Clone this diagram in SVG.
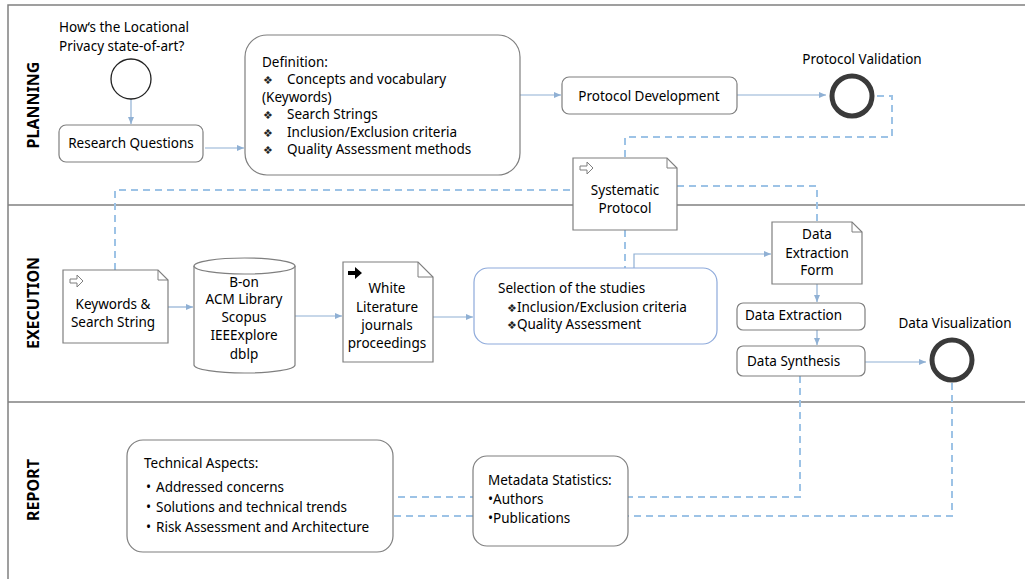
<svg xmlns="http://www.w3.org/2000/svg" width="1025" height="579" viewBox="0 0 1025 579">
<style>
text{font-family:"Noto Sans","DejaVu Sans",sans-serif;font-size:13.5px;fill:#000}
.lane{font-weight:bold;font-size:16px}
.c{text-anchor:middle}
.b{font-size:11px;fill:#222}
.box{fill:#fff;stroke:#7f7f7f;stroke-width:1.2}
.sel{fill:#fff;stroke:#8eaadb;stroke-width:1.2}
.frame{fill:none;stroke:#808080;stroke-width:1.5}
.flow{fill:none;stroke:#8fb0d4;stroke-width:1.2}
.dash{fill:none;stroke:#9dc3e6;stroke-width:2;stroke-dasharray:7,5}
.end{fill:#fff;stroke:#3a3a3a;stroke-width:5}
.icon{fill:#fff;stroke:#7f7f7f;stroke-width:1}
</style>
<defs>
<marker id="ah" markerWidth="8" markerHeight="8" refX="7" refY="4" orient="auto" markerUnits="userSpaceOnUse">
<path d="M0,1 L7,4 L0,7 z" fill="#8fb0d4"/>
</marker>
</defs>
<rect width="1025" height="579" fill="#fff"/>
<g id="lanes">
<path class="frame" d="M8,579 V5 H1025"/>
<line class="frame" x1="8" y1="205" x2="1025" y2="205"/>
<line class="frame" x1="8" y1="402" x2="1025" y2="402"/>
<text class="lane c" transform="translate(39,105) rotate(-90)">PLANNING</text>
<text class="lane c" transform="translate(39,303) rotate(-90)">EXECUTION</text>
<text class="lane c" transform="translate(39,490) rotate(-90)">REPORT</text>
</g>
<g id="connectors">
<path class="dash" d="M877,96 H892 V137 H625 V158"/>
<path class="dash" d="M115,270 V190 H573"/>
<path class="dash" d="M677,186 H817 V222"/>
<path class="dash" d="M625,230 V268"/>
<path class="dash" d="M800,376 V497 H393"/>
<path class="dash" d="M952,383 V516 H393"/>
<path class="flow" marker-end="url(#ah)" d="M131,99 V124"/>
<path class="flow" marker-end="url(#ah)" d="M205,148 H244"/>
<path class="flow" marker-end="url(#ah)" d="M520,95 H561"/>
<path class="flow" marker-end="url(#ah)" d="M737,95 H826"/>
<path class="flow" marker-end="url(#ah)" d="M168,307 H193"/>
<path class="flow" marker-end="url(#ah)" d="M295,316 H342"/>
<path class="flow" marker-end="url(#ah)" d="M433,317 H473"/>
<path class="flow" marker-end="url(#ah)" d="M634,268 V254 H771"/>
<path class="flow" marker-end="url(#ah)" d="M817,284 V302"/>
<path class="flow" marker-end="url(#ah)" d="M817,330 V345"/>
<path class="flow" marker-end="url(#ah)" d="M865,362 H926"/>
</g>
<g id="start">
<text x="59" y="32">How‘s the Locational</text>
<text x="59" y="51">Privacy state-of-art?</text>
<circle cx="131" cy="79" r="20" fill="#fff" stroke="#222" stroke-width="1.3"/>
</g>
<g id="research-questions">
<rect class="box" x="59" y="125" width="144" height="37" rx="7"/>
<text class="c" x="131" y="148">Research Questions</text>
</g>
<g id="definition">
<rect class="box" x="245" y="35" width="275" height="140" rx="22"/>
<text x="262" y="67">Definition:</text>
<text class="b" x="263" y="84">❖</text><text x="287" y="84">Concepts and vocabulary</text>
<text x="262" y="102">(Keywords)</text>
<text class="b" x="263" y="119">❖</text><text x="287" y="119">Search Strings</text>
<text class="b" x="263" y="137">❖</text><text x="287" y="137">Inclusion/Exclusion criteria</text>
<text class="b" x="263" y="154">❖</text><text x="287" y="154">Quality Assessment methods</text>
</g>
<g id="protocol-development">
<rect class="box" x="562" y="77" width="175" height="37" rx="7"/>
<text class="c" x="649" y="101">Protocol Development</text>
</g>
<g id="protocol-validation">
<circle class="end" cx="852" cy="96" r="20"/>
<text class="c" x="862" y="64">Protocol Validation</text>
</g>
<g id="systematic-protocol">
<path class="box" d="M573,158 H667 L677,168 V230 H573 Z"/>
<path fill="none" stroke="#7f7f7f" stroke-width="1" d="M667,158 V168 H677"/>
<path class="icon" d="M580,166 H587 V162 L593,168 L587,174 V170 H580 Z"/>
<text class="c" x="625" y="195">Systematic</text>
<text class="c" x="625" y="213">Protocol</text>
</g>
<g id="keywords">
<path class="box" d="M63,270 H158 L168,280 V343 H63 Z"/>
<path fill="none" stroke="#7f7f7f" stroke-width="1" d="M158,270 V280 H168"/>
<path class="icon" d="M70,279 H77 V275 L83,281 L77,287 V283 H70 Z"/>
<text class="c" x="113" y="309">Keywords &amp;</text>
<text class="c" x="113" y="327">Search String</text>
</g>
<g id="databases">
<path class="box" d="M194,266 V365 A50.5,8 0 0 0 295,365 V266"/>
<ellipse class="box" cx="244.5" cy="266" rx="50.5" ry="8"/>
<text class="c" x="244" y="287">B-on</text>
<text class="c" x="244" y="304">ACM Library</text>
<text class="c" x="244" y="322">Scopus</text>
<text class="c" x="244" y="340">IEEExplore</text>
<text class="c" x="244" y="359">dblp</text>
</g>
<g id="white-literature">
<path class="box" d="M343,262 H418 L433,277 V362 H343 Z"/>
<path fill="none" stroke="#7f7f7f" stroke-width="1" d="M418,262 V277 H433"/>
<path fill="#000" d="M348,271 H355 V267 L362,273 L355,279 V275 H348 Z"/>
<text class="c" x="387" y="293">White</text>
<text class="c" x="387" y="312">Literature</text>
<text class="c" x="387" y="330">journals</text>
<text class="c" x="387" y="348">proceedings</text>
</g>
<g id="selection">
<rect class="sel" x="474" y="268" width="243" height="76" rx="14"/>
<text x="498" y="293">Selection of the studies</text>
<text x="507" y="312"><tspan class="b">❖</tspan>Inclusion/Exclusion criteria</text>
<text x="507" y="329"><tspan class="b">❖</tspan>Quality Assessment</text>
</g>
<g id="data-extraction-form">
<path class="box" d="M772,222 H852 L862,232 V284 H772 Z"/>
<path fill="none" stroke="#7f7f7f" stroke-width="1" d="M852,222 V232 H862"/>
<text class="c" x="817" y="239">Data</text>
<text class="c" x="817" y="258">Extraction</text>
<text class="c" x="817" y="275">Form</text>
</g>
<g id="data-extraction">
<rect class="box" x="737" y="303" width="128" height="27" rx="6"/>
<text x="745" y="320">Data Extraction</text>
</g>
<g id="data-synthesis">
<rect class="box" x="737" y="346" width="128" height="30" rx="6"/>
<text x="747" y="366">Data Synthesis</text>
</g>
<g id="data-visualization">
<circle class="end" cx="952" cy="360" r="20"/>
<text class="c" x="955" y="328">Data Visualization</text>
</g>
<g id="technical-aspects">
<rect class="box" x="127" y="440" width="266" height="112" rx="16"/>
<text x="144" y="468">Technical Aspects:</text>
<text x="146" y="492">•</text><text x="156" y="492">Addressed concerns</text>
<text x="146" y="512">•</text><text x="156" y="512">Solutions and technical trends</text>
<text x="146" y="532">•</text><text x="156" y="532">Risk Assessment and Architecture</text>
</g>
<g id="metadata-statistics">
<rect class="box" x="473" y="456" width="155" height="90" rx="14"/>
<text x="488" y="485">Metadata Statistics:</text>
<text x="488" y="504">•Authors</text>
<text x="488" y="523">•Publications</text>
</g>
</svg>
